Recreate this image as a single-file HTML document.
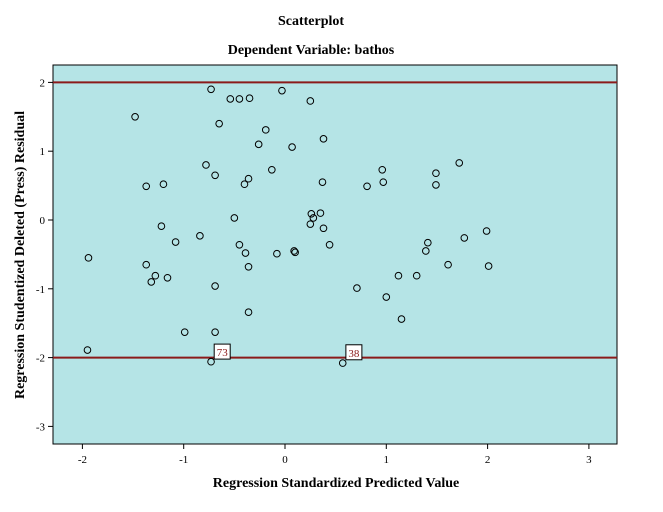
<!DOCTYPE html>
<html><head><meta charset="utf-8"><style>
body{margin:0;background:#fff;width:663px;height:507px;overflow:hidden}
text{font-family:"Liberation Serif",serif}
</style></head><body>
<svg width="663" height="507">
<text x="311" y="25" text-anchor="middle" font-size="14" font-weight="bold">Scatterplot</text>
<text x="311" y="54" text-anchor="middle" font-size="14" font-weight="bold">Dependent Variable: bathos</text>
<rect x="53" y="65" width="564" height="379" fill="#b5e4e6" stroke="#000" stroke-width="1"/>
<g id="axes"></g>
<g id="points"></g>
<text x="336" y="487" text-anchor="middle" font-size="14" font-weight="bold">Regression Standardized Predicted Value</text>
<text transform="translate(24,255) rotate(-90)" text-anchor="middle" font-size="14" font-weight="bold">Regression Studentized Deleted (Press) Residual</text>
</svg>
<script>
const xTicks=[-2,-1,0,1,2,3];
const yTicks=[2,1,0,-1,-2,-3];
const refLines=[2,-2];
const xVals=[-0.73,-0.03,-0.54,-0.45,-0.35,0.25,-1.48,-0.65,-0.19,0.38,-0.26,0.07,-0.78,0.96,-0.13,1.72,1.49,-0.69,-0.36,0.37,-0.40,0.97,0.81,1.49,-1.37,-1.20,-0.50,0.26,0.35,0.28,0.25,0.38,-1.22,-0.84,-1.08,-0.45,0.44,-0.39,-0.08,0.09,0.10,-1.94,-1.37,-0.36,1.41,1.39,1.77,1.99,1.61,2.01,-1.28,-1.16,-1.32,1.12,1.30,-0.69,0.71,1.00,-0.36,1.15,-0.99,-0.69,-1.95,-0.73,0.57];
const yVals=[1.90,1.88,1.76,1.76,1.77,1.73,1.50,1.40,1.31,1.18,1.10,1.06,0.80,0.73,0.73,0.83,0.68,0.65,0.60,0.55,0.52,0.55,0.49,0.51,0.49,0.52,0.03,0.09,0.10,0.03,-0.06,-0.12,-0.09,-0.23,-0.32,-0.36,-0.36,-0.48,-0.49,-0.45,-0.47,-0.55,-0.65,-0.68,-0.33,-0.45,-0.26,-0.16,-0.65,-0.67,-0.81,-0.84,-0.90,-0.81,-0.81,-0.96,-0.99,-1.12,-1.34,-1.44,-1.63,-1.63,-1.89,-2.06,-2.08];
const labelText=["73","38"];
const labelX=[-0.62,0.68];
const labelY=[-1.92,-1.93];
const X=v=>285+v*101.3, Y=v=>220-v*68.8;
const NS="http://www.w3.org/2000/svg";
const ax=document.getElementById('axes'), pts=document.getElementById('points');
function mk(tag,attrs,parent){const e=document.createElementNS(NS,tag);for(const k in attrs)e.setAttribute(k,attrs[k]);parent.appendChild(e);return e;}
xTicks.forEach(t=>{
 const l=mk('line',{x1:X(t),x2:X(t),y1:444,y2:449,stroke:'#000'},ax);
 
 
 const tx=mk('text',{x:X(t),y:463,'text-anchor':'middle','font-size':11,'font-family':'Liberation Sans'},ax);tx.textContent=t;
 
 
});
yTicks.forEach(t=>{
 const l=mk('line',{x1:48,x2:53,y1:Y(t),y2:Y(t),stroke:'#000'},ax);
 
 
 const tx=mk('text',{x:45,y:Y(t)+4,'text-anchor':'end','font-size':11,'font-family':'Liberation Sans'},ax);tx.textContent=t;
 
 
});
refLines.forEach(r=>{
 const l=mk('line',{x1:53,x2:617,y1:Y(r),y2:Y(r),stroke:'#8b1a1a','stroke-width':2},ax);
 
 
});
xVals.forEach((v,i)=>{
 const c=mk('circle',{cx:X(v),cy:Y(yVals[i]),r:3.3,fill:'none',stroke:'#000','stroke-width':1},pts);
 
 
});
labelText.forEach((s,i)=>{
 const cx=X(labelX[i]), cy=Y(labelY[i]);
 const r=mk('rect',{x:cx-8,y:cy-8,width:16,height:15,fill:'#fff',stroke:'#000'},pts);
 
 
 const t=mk('text',{x:cx,y:cy+4,'text-anchor':'middle','font-size':11,'font-family':'Liberation Sans',fill:'#8b1a1a'},pts);t.textContent=s;
 
 
});
</script>
</body></html>
